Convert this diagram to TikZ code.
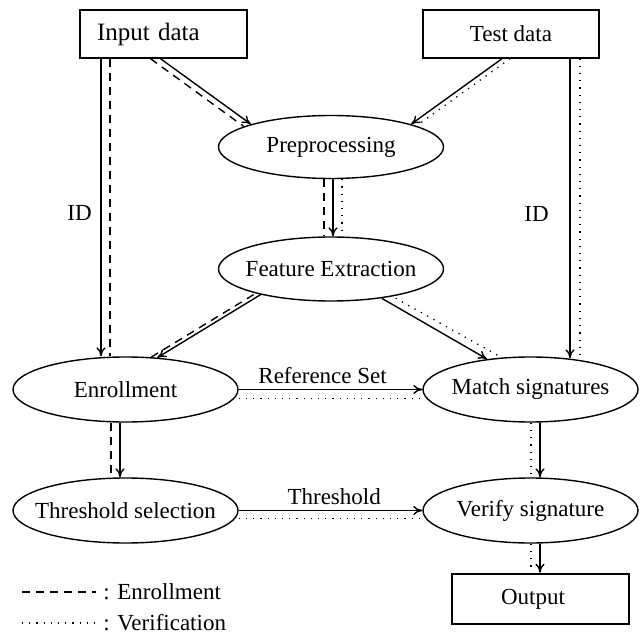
\documentclass[tikz,border=0pt]{standalone}
\usepackage{fontspec}
\setmainfont{Liberation Serif}
\usepackage{tikz}
\usetikzlibrary{shapes.geometric, arrows.meta}

\begin{document}
\begin{tikzpicture}[
  x=0.5pt, y=-0.5pt, line width=0.7pt,
  font=\fontsize{11.5}{13}\selectfont,
  dbox/.style={draw, minimum height=24pt, inner sep=0pt},
  ell/.style={draw, ellipse, inner xsep=-8pt, inner ysep=0pt,
              minimum width=112.5pt, minimum height=32.5pt},
  arr/.style={-{To[length=4.5pt, width=4.5pt]}},
  enrl/.style={dash pattern=on 4pt off 3pt},
  verf/.style={dash pattern=on 0.6pt off 3pt},
]
\useasboundingbox (0,0) rectangle (640,635);

% --- Data sources and output ---
\node[dbox, inner xsep=8.5pt, text width=66.5pt, align=left,
      font=\fontsize{12.5}{14}\selectfont]
  (in) at (163.5, 34) {Input data};
\node[dbox, minimum width=88pt]
  (test) at (511, 34) {Test data};
\node[dbox, inner xsep=24.5pt, text width=39.5pt, align=left,
      minimum height=25pt, line width=1.3pt]
  (out) at (540.5, 599) {Output};

% --- Processing stages ---
\node[ell, minimum height=31.5pt] (pre) at (331, 147)   {Preprocessing};
\node[ell, minimum height=32pt]   (fe)  at (331, 269)   {Feature Extraction};
\node[ell] (enr) at (125.5, 389.5) {Enrollment};
\node[ell, minimum width=107.5pt] (mat) at (530.5, 389.5) {Match signatures};
\node[ell] (thr) at (125.5, 510.5) {Threshold selection};
\node[ell, minimum width=107.5pt] (ver) at (530.5, 510.5) {Verify signature};

% --- Solid arrows, with enrollment (dashed) and verification (dotted) paths beside them ---
\draw[arr] ([xshift=-31.25pt]in.south) -- ([xshift=-31.25pt]in.south |- enr.north)
  node[pos=0.52, left=1pt] {ID};
\draw[enrl] ([xshift=-26.75pt]in.south) -- ([xshift=-26.75pt]in.south |- enr.north);

\draw[arr] ([xshift=29.5pt]test.south) -- ([shift={(29.5pt,-1pt)}]test.south |- mat.north)
  node[pos=0.52, left=7pt] {ID};
\draw[verf] ([xshift=34.5pt]test.south) -- ([xshift=34.5pt]test.south |- mat.north);

\draw[arr] ([xshift=-1.5pt]in.south) -- (pre.north west);
\draw[enrl] ([xshift=-6.5pt]in.south) -- ([shift={(-3.75pt,-1pt)}]pre.north west);

\draw[arr] ([xshift=-4.5pt]test.south) -- (pre.north east);
\draw[verf] ([xshift=-0.5pt]test.south) -- ([shift={(3pt,-0.6pt)}]pre.north east);

\draw[arr] ([xshift=1pt]pre.south) -- ([xshift=1pt]fe.north);
\draw[enrl] ([xshift=-3.5pt]pre.south) -- ([xshift=-3.5pt]fe.north);
\draw[verf] ([xshift=5.5pt]pre.south) -- ([xshift=5.5pt]fe.north);

\draw[arr] (fe.200) -- (enr.45);
\draw[enrl] ([xshift=-3.5pt]fe.200) -- ([xshift=-3.5pt]enr.45);

\draw[arr] (fe.-30) -- (mat.145);
\draw[verf] ([xshift=7pt]fe.-30) -- ([shift={(6pt,1.5pt)}]mat.145);

\draw[arr] (enr.east) -- (mat.west)
  node[pos=0.457, above=-1pt] {Reference Set};
\draw[verf] ([yshift=-4.5pt]enr.east) -- ([yshift=-4.5pt]mat.west);

\draw[arr] ([xshift=-2.75pt]enr.south) -- ([xshift=-2.75pt]thr.north);
\draw[enrl] ([xshift=-7.25pt]enr.south) -- ([xshift=-7.25pt]thr.north);

\draw[arr] (thr.east) -- (ver.west)
  node[pos=0.52, above=-1pt] {Threshold};
\draw[verf] ([yshift=-4pt]thr.east) -- ([yshift=-4pt]ver.west);

\draw[arr] ([xshift=4.75pt]mat.south) -- ([xshift=4.75pt]ver.north);
\draw[verf] ([xshift=0.25pt]mat.south) -- ([xshift=0.25pt]ver.north);

\draw[arr] ([xshift=4.75pt]ver.south) -- ([xshift=4.75pt]ver.south |- out.north);
\draw[verf] ([xshift=0.25pt]ver.south) -- ([xshift=0.25pt]ver.south |- out.north);

% --- Legend ---
\node[anchor=west] (legE) at (96, 592) {: Enrollment};
\coordinate (legEa) at (22, 592);
\draw[enrl] (legEa) -- (legE.west);
\node[anchor=west] (legV) at (96, 623) {: Verification};
\coordinate (legVa) at (22, 623);
\draw[verf] (legVa) -- (legV.west);
\end{tikzpicture}
\end{document}
